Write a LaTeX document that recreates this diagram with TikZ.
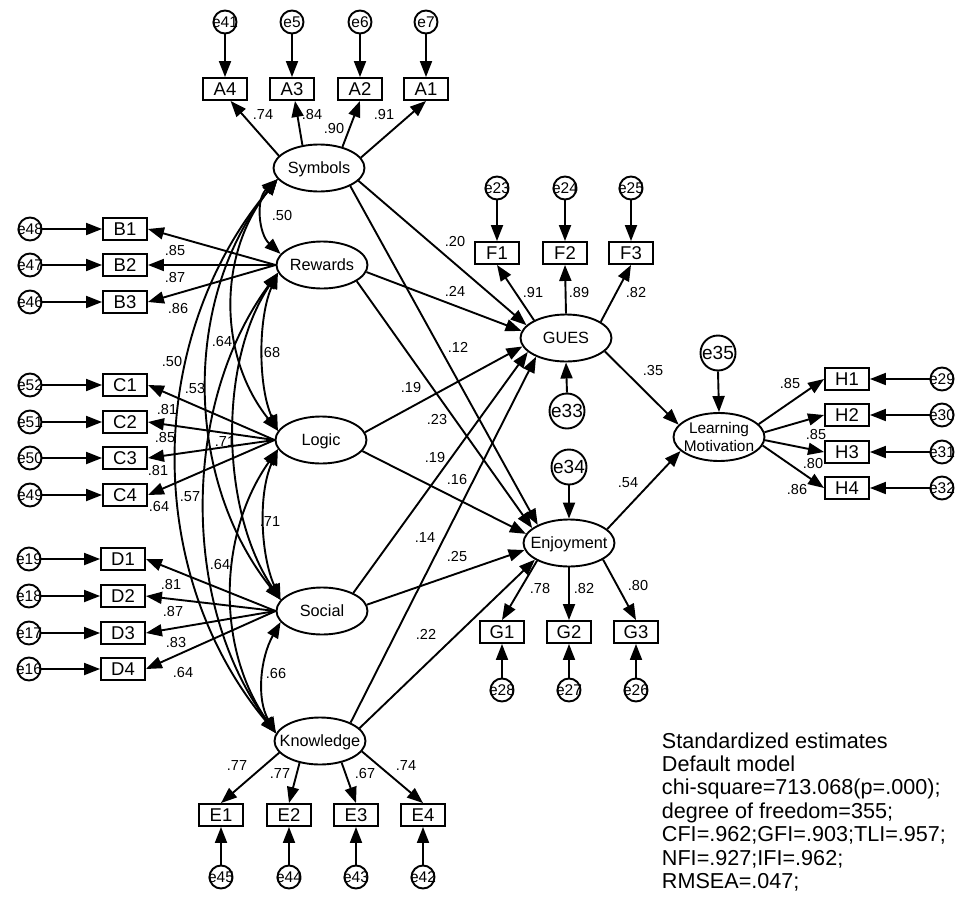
\documentclass[tikz,border=0pt]{standalone}
\usepackage{fontspec}
\setmainfont{Liberation Sans}
\usetikzlibrary{arrows.meta,shapes.geometric}
% zero-width box so that a label never enlarges its shape
\newcommand\ctr[1]{\makebox[0pt]{#1}}
\begin{document}
\begin{tikzpicture}[x=1pt,y=-1pt,line width=1.9pt,
  >={Triangle[length=16pt,width=12pt]},
  obs/.style={draw,rectangle,minimum width=44pt,minimum height=22pt,inner sep=0pt,
    font=\fontsize{18.5}{20}\selectfont},
  lat/.style={draw,ellipse,minimum width=91pt,minimum height=47pt,inner sep=0pt,
    text height=11.7pt,text depth=0pt,font=\fontsize{16.3}{18}\selectfont},
  lmtext/.style={inner sep=0pt,align=center,font=\fontsize{15.4}{17.7}\selectfont},
  err/.style={draw,circle,minimum size=23pt,inner sep=0pt,
    font=\fontsize{15.5}{17}\selectfont},
  bigerr/.style={draw,circle,minimum size=35pt,inner sep=0pt,
    font=\fontsize{19}{21}\selectfont},
  est/.style={inner sep=0pt,font=\fontsize{14.5}{16}\selectfont},
  fit/.style={inner sep=0pt,anchor=base west,font=\fontsize{21.6}{23.4}\selectfont},
  arr/.style={->},
  cov/.style={<->}]
\useasboundingbox (0,0) rectangle (975,916);

% latent variables
\node[lat] (Sym)  at (319,168) {\ctr{Symbols}};
\node[lat] (Rew)  at (322,265) {\ctr{Rewards}};
\node[lat] (Log)  at (321,440) {\ctr{Logic}};
\node[lat] (Soc)  at (322,611) {\ctr{Social}};
\node[lat] (Kn)   at (320,741) {\ctr{Knowledge}};
\node[lat] (GUES) at (566,338) {\ctr{GUES}};
\node[lat] (Enj)  at (569,543) {\ctr{Enjoyment}};
\node[lat,minimum height=48pt] (LM) at (719,437) {};
\node[lmtext] (LMlab) at (LM) {Learning\\Motivation};

% indicators with their error terms
\foreach \nm/\er/\xx in {A4/e41/225,A3/e5/292,A2/e6/360,A1/e7/426}{
  \node[obs] (\nm) at (\xx,89) {\nm};
  \node[err] (\er) at (\xx,22) {\ctr{\er}};
  \draw[arr] (\er.south) -- (\nm.north);}
\foreach \nm/\er/\yy in {B1/e48/229,B2/e47/265,B3/e46/302}{
  \node[obs] (\nm) at (125,\yy) {\nm};
  \node[err] (\er) at (30,\yy) {\ctr{\er}};
  \draw[arr] (\er.east) -- (\nm.west);
  \draw[arr] (Rew.west) -- (\nm.east);}
\foreach \nm/\er/\yy in {C1/e52/385,C2/e51/422,C3/e50/458,C4/e49/495}{
  \node[obs] (\nm) at (125,\yy) {\nm};
  \node[err] (\er) at (30,\yy) {\ctr{\er}};
  \draw[arr] (\er.east) -- (\nm.west);
  \draw[arr] (Log.west) -- (\nm.east);}
\foreach \nm/\er/\yy in {D1/e19/559,D2/e18/596,D3/e17/633,D4/e16/669}{
  \node[obs] (\nm) at (123,\yy) {\nm};
  \node[err] (\er) at (29,\yy) {\ctr{\er}};
  \draw[arr] (\er.east) -- (\nm.west);
  \draw[arr] (Soc.west) -- (\nm.east);}
\foreach \nm/\er/\xx in {E1/e45/221,E2/e44/289,E3/e43/356,E4/e42/423}{
  \node[obs] (\nm) at (\xx,815) {\nm};
  \node[err] (\er) at (\xx,877) {\ctr{\er}};
  \draw[arr] (\er.north) -- (\nm.south);}
\foreach \nm/\er/\xx in {F1/e23/497,F2/e24/565,F3/e25/631}{
  \node[obs] (\nm) at (\xx,253) {\nm};
  \node[err] (\er) at (\xx,188) {\ctr{\er}};
  \draw[arr] (\er.south) -- (\nm.north);}
\foreach \nm/\er/\xx in {G1/e28/502,G2/e27/569,G3/e26/636}{
  \node[obs] (\nm) at (\xx,632) {\nm};
  \node[err] (\er) at (\xx,690) {\ctr{\er}};
  \draw[arr] (\er.north) -- (\nm.south);}
\foreach \nm/\er/\yy in {H1/e29/379,H2/e30/415,H3/e31/452,H4/e32/488}{
  \node[obs] (\nm) at (847,\yy) {\nm};
  \node[err] (\er) at (942,\yy) {\ctr{\er}};
  \draw[arr] (\er.west) -- (\nm.east);}

% disturbances
\node[bigerr] (e33) at (567,411) {\ctr{e33}};
\node[bigerr] (e34) at (569,467) {\ctr{e34}};
\node[bigerr] (e35) at (718,353) {\ctr{e35}};
\draw[arr] (e33.north) -- (GUES.south);
\draw[arr] (e34.south) -- (Enj.north);
\draw[arr] (e35.south) -- (LM.north);

% loadings
\draw[arr] (Sym.163) -- (A4.-65);
\draw[arr] (Sym.126) -- (A3.-76);
\draw[arr] (Sym.42)  -- (A2.south);
\draw[arr] (Sym.14)  -- (A1.south);
\draw[arr] (Kn.196)  -- (E1.north);
\draw[arr] (Kn.227)  -- (E2.north);
\draw[arr] (Kn.-45)  -- (E3.north);
\draw[arr] (Kn.-14)  -- (E4.north);
\draw[arr] (GUES.151) -- (F1.south);
\draw[arr] (GUES.north) -- (F2.south);
\draw[arr] (GUES.25) -- (F3.south);
\draw[arr] (Enj.209) -- (G1.north);
\draw[arr] (Enj.south) -- (G2.north);
\draw[arr] (Enj.-26) -- (G3.north);
\draw[arr] (LM.18) -- (H1.west);
\draw[arr] (LM.6)  -- (H2.west);
\draw[arr] (LM.-4) -- (H3.west);
\draw[arr] (LM.-11) -- (H4.west);

% structural paths
\draw[arr] (Sym.-18) -- (GUES.162);
\draw[arr] (Sym.-30) -- (Enj.150);
\draw[arr] (Rew.-9)  -- (GUES.171);
\draw[arr] (Rew.-25) -- (Enj.158);
\draw[arr] (Log.10)  -- (GUES.191);
\draw[arr] (Log.-15) -- (Enj.168);
\draw[arr] (Soc.30)  -- (GUES.200);
\draw[arr] (Soc.8)   -- (Enj.189);
\draw[arr] (Kn.31)   -- (GUES.212);
\draw[arr] (Kn.18)   -- (Enj.206);
\draw[arr] (GUES.-19) -- (LM.163);
\draw[arr] (Enj.20)  -- (LM.200);

% correlations among the exogenous factors
\draw[cov] (Sym.195) .. controls +(-22,20) and +(-22,-20) .. (Rew.165);
\draw[cov] (Rew.190) .. controls +(-20,45) and +(-20,-45) .. (Log.168);
\draw[cov] (Log.192) .. controls +(-20,45) and +(-20,-45) .. (Soc.165);
\draw[cov] (Soc.195) .. controls +(-20,35) and +(-20,-35) .. (Kn.170);
\draw[cov] (Sym.195) .. controls +(-60,75) and +(-60,-75) .. (Log.168);
\draw[cov] (Rew.190) .. controls +(-60,90) and +(-60,-90) .. (Soc.165);
\draw[cov] (Log.192) .. controls +(-60,85) and +(-60,-85) .. (Kn.170);
\draw[cov] (Sym.195) .. controls +(-96,120) and +(-96,-120) .. (Soc.165);
\draw[cov] (Rew.190) .. controls +(-96,130) and +(-96,-130) .. (Kn.170);
\draw[cov] (Sym.195) .. controls +(-133,160) and +(-133,-160) .. (Kn.170);

% estimates
\foreach \xx/\yy/\t [count=\i] in {
  263/115/.74, 312/115/.84, 334/129/.90, 384/115/.91,
  175/251/.85, 175/278/.87, 178/309/.86,
  167/410/.81, 165/438/.85, 158/471/.81, 159/507/.64,
  171/585/.81, 173/612/.87, 176/642/.83, 183/672/.64,
  237/766/.77, 280/774/.77, 365/773/.67, 406/766/.74,
  533/293/.91, 579/293/.89, 636/293/.82,
  540/589/.78, 584/589/.82, 638/586/.80,
  790/384/.85, 816/435/.85, 813/464/.80, 797/490/.86,
  282/216/.50, 270/353/.68, 222/342/.64, 172/362/.50, 195/389/.53,
  225/442/.71, 190/497/.57, 270/522/.71, 220/565/.64, 276/673/.66,
  455/242/.20, 455/291/.24, 458/347/.12, 411/388/.19, 437/420/.23,
  435/458/.19, 457/480/.16, 425/538/.14, 457/557/.25, 426/634/.22,
  653/371/.35, 628/483/.54}
  \node[est] (est\i) at (\xx,\yy) {\t};

% model fit summary
\foreach \t [count=\i] in {{Standardized estimates},{Default model},
  {chi-square=713.068(p=.000);},{degree of freedom=355;},
  {CFI=.962;GFI=.903;TLI=.957;},{NFI=.927;IFI=.962;},{RMSEA=.047;}}
  \node[fit] (fit\i) at (661,{748+23.4*(\i-1)}) {\t};
\end{tikzpicture}
\end{document}
